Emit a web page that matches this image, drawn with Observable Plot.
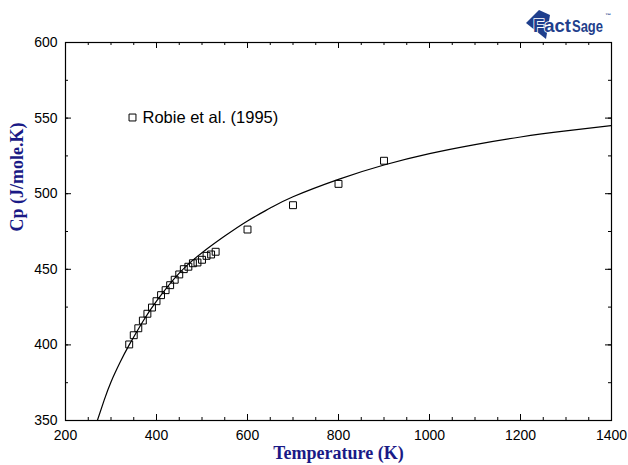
<!DOCTYPE html>
<html>
<head>
<meta charset="utf-8">
<script src="https://cdn.jsdelivr.net/npm/d3@7"></script>
<script src="https://cdn.jsdelivr.net/npm/@observablehq/plot@0.6"></script>
<style>
  body { margin: 0; background: #fff; }
  #wrap { position: relative; width: 628px; height: 465px; }
  #logo { position: absolute; left: 524px; top: 6px; }
</style>
</head>
<body>
<div id="wrap">
  <svg id="logo" width="92" height="34" viewBox="0 0 92 34">
    <polygon points="2,17 15,4 26,9 22,33" fill="#1f3f8c"/>
    <text x="9" y="26" font-family="Liberation Sans, Arial, sans-serif" font-weight="bold" font-size="19"
          textLength="38" lengthAdjust="spacingAndGlyphs"
          fill="#1f3f8c" stroke="#fff" stroke-width="1.6" paint-order="stroke">Fact</text>
    <text x="48" y="26" font-family="Liberation Sans, Arial, sans-serif"
          textLength="31" lengthAdjust="spacingAndGlyphs"
          font-weight="bold" font-size="16" fill="#1f3f8c">Sage</text>
    <text x="81" y="11" font-family="Liberation Sans, Arial, sans-serif" font-weight="bold" font-size="5"
          textLength="6" lengthAdjust="spacingAndGlyphs" fill="#1f3f8c">™</text>
  </svg>
</div>
<script>
// Measured heat capacity (Robie et al., 1995)
const robieT  = [340, 350, 360, 370, 380, 390, 400, 410, 420, 430,
                 440, 450, 460, 470, 480, 490, 500, 510, 520, 530,
                 600, 700, 800, 900];
const robieCp = [400.3, 406.4, 411.0, 416.1, 420.6, 424.7, 428.9, 432.9, 436.2, 439.5,
                 443.1, 446.6, 450.1, 451.7, 454.0, 454.5, 456.3, 458.9, 459.8, 461.6,
                 476.3, 492.4, 506.5, 521.8];

// Assessed Cp curve
const curveT  = [270, 285, 300, 320, 340, 370, 400, 450, 500, 550,
                 600, 650, 700, 800, 900, 1000, 1100, 1200, 1300, 1400];
const curveCp = [350, 363.5, 375.5, 388.5, 400, 415.5, 429, 447.5, 461, 472,
                 482, 490.5, 498, 509.5, 519, 526.5, 532.5, 537.5, 541.5, 545];

// Axis ticks
const xMajor = [200, 400, 600, 800, 1000, 1200, 1400];
const xMinor = d3.range(200, 1401, 50);
const yMajor = [350, 400, 450, 500, 550, 600];
const yMinor = d3.range(350, 601, 25);

const legendLabel = "Robie et al. (1995)";
const xTitle = "Temperature (K)";
const yTitle = "Cp (J/mole.K)";

const points = robieT.map((t, i) => ({T: t, Cp: robieCp[i]}));
const curve = curveT.map((t, i) => ({T: t, Cp: curveCp[i]}));

const W = 628, H = 465;
const mL = 65, mR = 17, mT = 42, mB = 45;
const plotW = W - mL - mR, plotH = H - mT - mB;
const navy = "#1a1a86";
const sans = "Liberation Sans, Arial, Helvetica, sans-serif";
const serif = "Liberation Serif, Times New Roman, serif";

const chart = Plot.plot({
  width: W,
  height: H,
  marginLeft: mL,
  marginRight: mR,
  marginTop: mT,
  marginBottom: mB,
  style: {background: "#fff", color: "#000"},
  x: {domain: [200, 1400]},
  y: {domain: [350, 600]},
  marks: [
    // inward ticks on all four sides
    Plot.tickX(xMinor, {x: d => d, insetTop: plotH - 3, stroke: "#000"}),
    Plot.tickX(xMinor, {x: d => d, insetBottom: plotH - 3, stroke: "#000"}),
    Plot.tickX(xMajor, {x: d => d, insetTop: plotH - 6, stroke: "#000"}),
    Plot.tickX(xMajor, {x: d => d, insetBottom: plotH - 6, stroke: "#000"}),
    Plot.tickY(yMinor, {y: d => d, insetRight: plotW - 3, stroke: "#000"}),
    Plot.tickY(yMinor, {y: d => d, insetLeft: plotW - 3, stroke: "#000"}),
    Plot.tickY(yMajor, {y: d => d, insetRight: plotW - 6, stroke: "#000"}),
    Plot.tickY(yMajor, {y: d => d, insetLeft: plotW - 6, stroke: "#000"}),
    Plot.axisX({ticks: xMajor, tickSize: 0, tickPadding: 10, label: null,
                fontSize: 14, fontFamily: sans, tickFormat: d => String(d)}),
    Plot.axisY({ticks: yMajor, tickSize: 0, tickPadding: 8, label: null,
                fontSize: 14, fontFamily: sans, tickFormat: d => String(d)}),
    Plot.line(curve, {x: "T", y: "Cp", curve: "natural", stroke: "#000", strokeWidth: 1.2, clip: true}),
    Plot.dot(points, {x: "T", y: "Cp", symbol: "square", r: 3.9, stroke: "#000", strokeWidth: 1, fill: "none"}),
    // legend entry
    Plot.dot([legendLabel], {frameAnchor: "top-left", dx: 67, dy: 75, symbol: "square", r: 3.9,
                             stroke: "#000", strokeWidth: 1, fill: "none"}),
    Plot.text([legendLabel], {frameAnchor: "top-left", dx: 77, dy: 75, text: d => d, textAnchor: "start",
                              lineAnchor: "middle", fontSize: 16.5, fontFamily: sans, fill: "#000"}),
    // axis titles
    Plot.text([xTitle], {frameAnchor: "bottom", dy: 33, text: d => d, lineAnchor: "middle",
                         fontSize: 18, fontWeight: "bold", fontFamily: serif, fill: navy}),
    Plot.text([yTitle], {frameAnchor: "left", dx: -48, text: d => d, rotate: -90, lineAnchor: "middle",
                         fontSize: 18, fontWeight: "bold", fontFamily: serif, fill: navy}),
    Plot.frame({stroke: "#000", strokeWidth: 1.2})
  ]
});

document.getElementById("wrap").prepend(chart);
</script>
</body>
</html>
